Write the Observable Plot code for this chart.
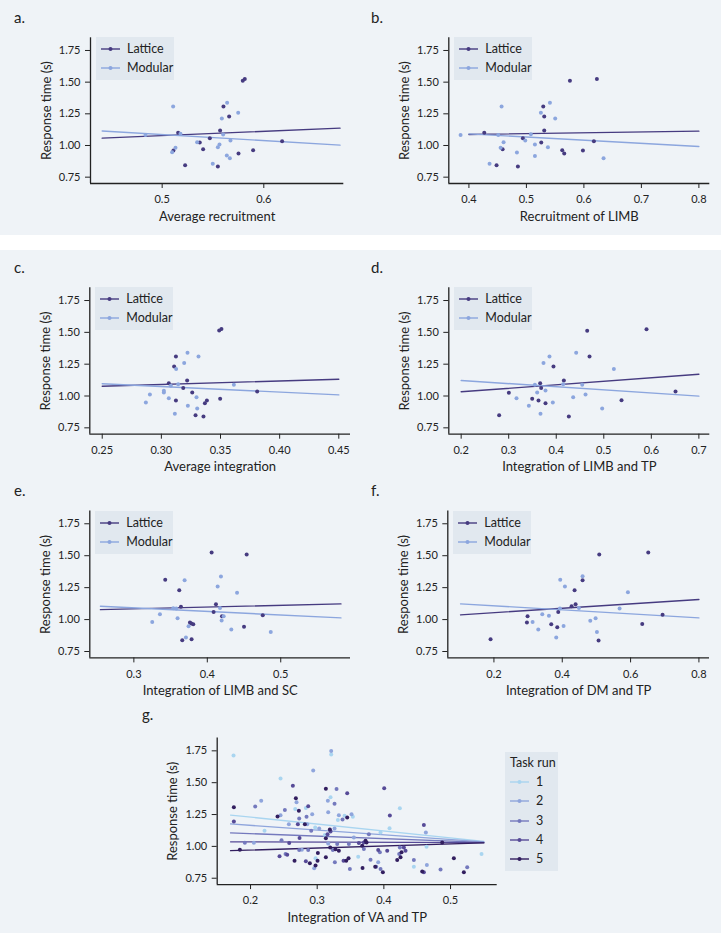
<!DOCTYPE html>
<html><head><meta charset="utf-8">
<script src="https://cdn.jsdelivr.net/npm/d3@7"></script>
<script src="https://cdn.jsdelivr.net/npm/@observablehq/plot@0.6"></script>
<style>
html,body{margin:0;padding:0;background:#eff3f7;}
#fig{position:relative;width:721px;height:933px;background:#eff3f7;font-family:Lato,sans-serif;color:#222;overflow:hidden}
.band{position:absolute;left:0;top:235px;width:721px;height:15px;background:#fff}
.wrap{position:absolute}
.wrap svg{overflow:visible}
.tag{position:absolute;font-size:15px;line-height:1;color:#222}
.legend{position:absolute;background:#e1e8ef;font-size:12.5px;color:#222}
.legend .row{position:absolute;left:0;height:14px;line-height:14px;white-space:nowrap}
.legend .row svg{position:absolute;left:5px;top:3px}
.legend .row span{position:absolute;left:31px;top:0}
.legend .title{position:absolute;left:5px;height:14px;line-height:14px;white-space:nowrap}
</style></head><body><div id="fig"><div class="band"></div></div>
<script>
// ---------- shared ----------
const groups = ["Lattice", "Modular"];
const groupColors = ["#463b80", "#8ca6de"];
const yDomain = [0.70, 1.85];
const yTicks = [0.75, 1.00, 1.25, 1.50, 1.75];
const yLabel = "Response time (s)";

// ---------- a. Average recruitment ----------
const aLattice = [[0.5813,1.524],[0.5793,1.511],[0.5603,1.308],[0.5659,1.229],[0.5570,1.118],[0.5157,1.100],[0.5469,1.058],[0.5370,1.024],[0.5403,0.971],[0.5895,0.963],[0.5111,0.961],[0.5751,0.937],[0.5226,0.845],[0.5548,0.834],[0.6180,1.034]];
const aModular = [[0.5108,1.308],[0.5639,1.337],[0.5748,1.258],[0.5587,1.213],[0.4836,1.082],[0.5180,1.092],[0.5600,1.087],[0.5672,1.039],[0.5344,1.026],[0.5564,1.008],[0.5131,0.982],[0.5548,0.987],[0.5098,0.947],[0.5636,0.921],[0.5666,0.900],[0.5498,0.855]];
const aLineLattice = [[0.441,1.058],[0.675,1.137]];
const aLineModular = [[0.441,1.114],[0.675,1.003]];

// ---------- b. Recruitment of LIMB ----------
const bLattice = [[0.6226,1.524],[0.5757,1.511],[0.5293,1.308],[0.5310,1.229],[0.5310,1.118],[0.4267,1.100],[0.4939,1.058],[0.5258,1.024],[0.4586,0.971],[0.5623,0.963],[0.5983,0.961],[0.5658,0.937],[0.4481,0.845],[0.4852,0.834],[0.6174,1.034]];
const bModular = [[0.4568,1.308],[0.5409,1.337],[0.5252,1.258],[0.5501,1.213],[0.3855,1.082],[0.4510,1.082],[0.5078,1.089],[0.4980,1.039],[0.4603,1.026],[0.5148,1.008],[0.4551,0.982],[0.5374,0.987],[0.4835,0.945],[0.5148,0.918],[0.6342,0.900],[0.4359,0.855]];
const bLineLattice = [[0.4,1.087],[0.8,1.113]];
const bLineModular = [[0.4,1.092],[0.8,0.992]];

// ---------- c. Average integration ----------
const cLattice = [[0.3508,1.527],[0.3489,1.514],[0.3123,1.310],[0.3108,1.232],[0.3218,1.122],[0.3063,1.101],[0.3185,1.062],[0.3261,1.027],[0.3385,0.965],[0.3368,0.944],[0.3123,0.965],[0.3497,0.978],[0.3289,0.849],[0.3356,0.839],[0.3810,1.035]];
const cModular = [[0.3221,1.339],[0.3314,1.310],[0.3193,1.260],[0.3125,1.213],[0.3613,1.088],[0.3080,1.080],[0.3142,1.093],[0.3021,1.041],[0.3021,1.027],[0.2903,1.012],[0.3063,0.983],[0.3297,0.991],[0.2869,0.949],[0.3224,0.923],[0.3303,0.902],[0.3114,0.860]];
const cLineLattice = [[0.25,1.077],[0.45,1.132]];
const cLineModular = [[0.25,1.096],[0.45,1.009]];

// ---------- d. Integration of LIMB and TP ----------
const dLattice = [[0.5899,1.524],[0.4651,1.512],[0.4700,1.310],[0.3942,1.232],[0.4160,1.122],[0.3662,1.101],[0.3683,1.062],[0.3003,1.025],[0.3494,0.978],[0.3627,0.965],[0.3774,0.944],[0.5373,0.967],[0.2799,0.849],[0.4265,0.839],[0.6509,1.035]];
const dModular = [[0.4419,1.339],[0.3858,1.310],[0.3732,1.260],[0.5212,1.213],[0.3550,1.088],[0.4146,1.093],[0.4546,1.088],[0.3774,1.043],[0.3599,1.027],[0.4616,1.012],[0.3164,0.983],[0.4356,0.991],[0.3928,0.949],[0.3424,0.923],[0.4966,0.902],[0.3669,0.860]];
const dLineLattice = [[0.2,1.033],[0.7,1.171]];
const dLineModular = [[0.2,1.122],[0.7,0.999]];

// ---------- e. Integration of LIMB and SC ----------
const eLattice = [[0.4059,1.525],[0.4536,1.509],[0.3427,1.311],[0.3618,1.230],[0.4118,1.120],[0.3641,1.101],[0.4086,1.060],[0.4200,1.026],[0.3764,0.977],[0.3782,0.969],[0.3809,0.963],[0.4500,0.943],[0.3786,0.846],[0.3659,0.838],[0.4755,1.034]];
const eModular = [[0.4186,1.337],[0.3691,1.308],[0.4141,1.258],[0.4405,1.211],[0.4173,1.091],[0.3536,1.089],[0.3577,1.086],[0.3355,1.042],[0.4223,1.026],[0.4195,0.992],[0.3595,1.010],[0.3250,0.982],[0.3745,0.948],[0.3709,0.859],[0.4327,0.922],[0.4864,0.903]];
const eLineLattice = [[0.2545,1.078],[0.582,1.123]];
const eLineModular = [[0.2545,1.104],[0.582,1.013]];

// ---------- f. Integration of DM and TP ----------
const fLattice = [[0.6517,1.525],[0.5083,1.509],[0.4595,1.308],[0.4361,1.230],[0.4390,1.120],[0.4273,1.104],[0.3883,1.060],[0.2985,1.026],[0.2966,0.977],[0.3678,0.963],[0.3854,0.940],[0.6341,0.966],[0.1902,0.846],[0.5063,0.836],[0.6937,1.037]];
const fModular = [[0.4595,1.339],[0.3941,1.311],[0.4078,1.258],[0.5922,1.214],[0.5678,1.086],[0.4488,1.091],[0.3932,1.086],[0.3415,1.042],[0.3610,1.029],[0.3132,0.982],[0.4820,0.990],[0.4976,1.010],[0.4039,0.950],[0.3298,0.922],[0.5015,0.903],[0.3824,0.859]];
const fLineLattice = [[0.1024,1.037],[0.8,1.157]];
const fLineModular = [[0.1024,1.123],[0.8,1.013]];

// ---------- g. Integration of VA and TP, by task run ----------
const runs = ["1", "2", "3", "4", "5"];
const runColors = ["#a9d5f0", "#8fa5dc", "#7479bd", "#564a97", "#321e5f"];
const gRun1 = [[0.1745,1.713],[0.245,1.532],[0.321,1.721],[0.320,1.385],[0.267,1.293],[0.283,1.302],[0.3535,1.233],[0.341,1.240],[0.424,1.299],[0.221,1.122],[0.297,1.148],[0.2975,0.906],[0.3115,1.089],[0.331,1.208],[0.3615,0.919],[0.395,1.109],[0.4085,1.143],[0.445,0.841],[0.464,0.997],[0.5465,0.940]];
const gRun2 = [[0.321,1.749],[0.294,1.595],[0.216,1.359],[0.269,1.346],[0.316,1.359],[0.3165,1.267],[0.205,1.029],[0.245,1.245],[0.2575,1.174],[0.277,0.974],[0.285,1.174],[0.2955,0.828],[0.3165,1.023],[0.326,1.141],[0.3325,1.245],[0.3515,1.253],[0.355,1.070],[0.3915,0.875],[0.463,1.109],[0.4645,0.854],[0.303,1.140],[0.2925,1.253]];
const gRun3 = [[0.207,1.314],[0.2515,1.286],[0.329,1.451],[0.326,1.335],[0.284,1.233],[0.273,1.218],[0.1915,1.029],[0.2465,1.049],[0.2525,0.940],[0.273,0.971],[0.2865,0.971],[0.291,1.122],[0.3235,0.971],[0.330,1.018],[0.3265,0.875],[0.338,1.211],[0.349,0.823],[0.3475,1.018],[0.380,0.896],[0.394,0.953],[0.370,0.979],[0.3775,1.096],[0.3885,0.841],[0.395,0.823],[0.424,0.992],[0.423,0.940],[0.445,0.893],[0.485,0.818],[0.525,0.836]];
const gRun4 = [[0.2635,1.475],[0.345,1.418],[0.4005,1.457],[0.409,1.243],[0.2865,1.316],[0.175,1.195],[0.2435,0.922],[0.255,0.935],[0.258,1.026],[0.271,1.174],[0.2735,1.065],[0.283,0.883],[0.3155,1.096],[0.320,1.117],[0.3395,0.888],[0.3625,1.026],[0.3915,0.971],[0.405,0.966],[0.430,0.992],[0.4325,0.966],[0.460,1.167],[0.460,0.797],[0.370,1.031]];
const gRun5 = [[0.175,1.307],[0.268,1.377],[0.2405,1.235],[0.2725,1.280],[0.313,1.453],[0.345,1.227],[0.184,0.974],[0.266,0.888],[0.2815,1.174],[0.289,0.867],[0.301,0.948],[0.2975,0.849],[0.3005,0.888],[0.313,1.063],[0.319,1.133],[0.313,0.914],[0.3195,0.992],[0.3275,0.977],[0.3325,0.966],[0.3435,0.888],[0.347,0.906],[0.3675,1.005],[0.3725,1.044],[0.368,0.831],[0.387,0.841],[0.374,1.031],[0.3985,0.797],[0.420,0.893],[0.425,0.914],[0.4265,0.953],[0.4575,0.802],[0.505,0.906],[0.520,0.797],[0.4875,1.031]];
const gLineX = [0.17, 0.55];
const gLineStartY = [1.246, 1.176, 1.106, 1.036, 0.966];
const gLineEndY = [1.040, 1.035, 1.032, 1.030, 1.027];

// ---------- layout (page pixels) ----------
const panels = [
  {tag:"a.", tagPos:[14,10], box:[0,0,360,235], frame:{l:90,r:343.3,t:37.3,b:183}, xDomain:[0.4295,0.6787], xTicks:[0.5,0.6], fmt:".1f", xLabel:"Average recruitment", lat:aLattice, mod:aModular, lLat:aLineLattice, lMod:aLineModular},
  {tag:"b.", tagPos:[371,10], box:[360,0,361,235], frame:{l:448.3,r:709.3,t:37.3,b:183}, xDomain:[0.365,0.819], xTicks:[0.4,0.5,0.6,0.7,0.8], fmt:".1f", xLabel:"Recruitment of LIMB", lat:bLattice, mod:bModular, lLat:bLineLattice, lMod:bLineModular},
  {tag:"c.", tagPos:[14,260], box:[0,250,360,225], frame:{l:89.3,r:350,t:287.3,b:433.7}, xDomain:[0.2395,0.4599], xTicks:[0.25,0.30,0.35,0.40,0.45], fmt:".2f", xLabel:"Average integration", lat:cLattice, mod:cModular, lLat:cLineLattice, lMod:cLineModular},
  {tag:"d.", tagPos:[371,260], box:[360,250,361,225], frame:{l:448.3,r:709.3,t:287.3,b:433.7}, xDomain:[0.174,0.723], xTicks:[0.2,0.3,0.4,0.5,0.6,0.7], fmt:".1f", xLabel:"Integration of LIMB and TP", lat:dLattice, mod:dModular, lLat:dLineLattice, lMod:dLineModular},
  {tag:"e.", tagPos:[14,483], box:[0,475,360,225], frame:{l:89.3,r:350,t:510.5,b:657.4}, xDomain:[0.24,0.595], xTicks:[0.3,0.4,0.5], fmt:".1f", xLabel:"Integration of LIMB and SC", lat:eLattice, mod:eModular, lLat:eLineLattice, lMod:eLineModular},
  {tag:"f.", tagPos:[371,483], box:[360,475,361,225], frame:{l:447.3,r:709,t:510.5,b:657.4}, xDomain:[0.065,0.831], xTicks:[0.2,0.4,0.6,0.8], fmt:".1f", xLabel:"Integration of DM and TP", lat:fLattice, mod:fModular, lLat:fLineLattice, lMod:fLineModular}
];

const fig = document.getElementById("fig");

function axes(xDomain, xTicks, fmt, xLabel) {
  return [
    Plot.axisY({ticks: yTicks, tickFormat: d3.format(".2f"), tickSize: 5, tickPadding: 5, fontSize: 11, label: null}),
    Plot.axisY({ticks: [], label: yLabel, labelArrow: "none", labelAnchor: "center", labelOffset: 49, fontSize: 13}),
    Plot.axisX({ticks: xTicks, tickFormat: d3.format(fmt), tickSize: 5, tickPadding: 7, fontSize: 11, label: null}),
    Plot.axisX({ticks: [], label: xLabel, labelArrow: "none", labelAnchor: "center", labelOffset: 37, fontSize: 13}),
    Plot.ruleX([xDomain[0]], {stroke: "#222", strokeWidth: 1.3}),
    Plot.ruleY([yDomain[0]], {stroke: "#222", strokeWidth: 1.3})
  ];
}

function place(el, box) {
  const w = document.createElement("div");
  w.className = "wrap";
  w.style.left = box[0] + "px"; w.style.top = box[1] + "px";
  w.appendChild(el);
  fig.appendChild(w);
}

function tag(text, pos) {
  const t = document.createElement("div");
  t.className = "tag"; t.textContent = text;
  t.style.left = pos[0] + "px"; t.style.top = pos[1] + "px";
  fig.appendChild(t);
}

function swatch(color) {
  return `<svg width="20" height="8"><line x1="0" y1="4" x2="19" y2="4" stroke="${color}" stroke-width="1.4"/><circle cx="9.5" cy="4" r="2" fill="${color}"/></svg>`;
}

function legend(left, top, w, h, title, names, colors, firstY, step) {
  const L = document.createElement("div");
  L.className = "legend";
  L.style.left = left + "px"; L.style.top = top + "px";
  L.style.width = w + "px"; L.style.height = h + "px";
  let html = "";
  if (title) html += `<div class="title" style="top:${11 - 7}px">${title}</div>`;
  names.forEach((n, i) => {
    html += `<div class="row" style="top:${firstY + i * step - 7}px">${swatch(colors[i])}<span>${n}</span></div>`;
  });
  L.innerHTML = html;
  fig.appendChild(L);
}

for (const p of panels) {
  const [bx, by, bw, bh] = p.box;
  const pts = [
    ...p.lat.map(([x, y]) => ({x, y, g: "Lattice"})),
    ...p.mod.map(([x, y]) => ({x, y, g: "Modular"}))
  ];
  const lns = [
    ...p.lLat.map(([x, y]) => ({x, y, g: "Lattice"})),
    ...p.lMod.map(([x, y]) => ({x, y, g: "Modular"}))
  ];
  const chart = Plot.plot({
    width: bw, height: bh,
    marginLeft: p.frame.l - bx, marginRight: bx + bw - p.frame.r,
    marginTop: p.frame.t - by, marginBottom: by + bh - p.frame.b,
    style: {background: "transparent", fontFamily: "Lato, sans-serif", color: "#222"},
    x: {domain: p.xDomain},
    y: {domain: yDomain},
    color: {domain: groups, range: groupColors},
    marks: [
      ...axes(p.xDomain, p.xTicks, p.fmt, p.xLabel),
      Plot.line(lns, {x: "x", y: "y", z: "g", stroke: "g", strokeWidth: 1.4}),
      Plot.dot(pts, {x: "x", y: "y", fill: "g", r: 2})
    ]
  });
  place(chart, p.box);
  tag(p.tag, p.tagPos);
  legend(p.frame.l + 6, p.frame.t, 78, 43, null, groups, groupColors, 12, 19);
}

// ---------- panel g ----------
{
  const box = [0, 700, 721, 233];
  const frame = {l: 216.7, r: 496.7, t: 737.6, b: 884.1};
  const xDomain = [0.15, 0.57];
  const runData = [gRun1, gRun2, gRun3, gRun4, gRun5];
  const pts = runData.flatMap((arr, i) => arr.map(([x, y]) => ({x, y, run: runs[i]})));
  const lns = runs.flatMap((r, i) => [
    {x: gLineX[0], y: gLineStartY[i], run: r},
    {x: gLineX[1], y: gLineEndY[i], run: r}
  ]);
  const chart = Plot.plot({
    width: box[2], height: box[3],
    marginLeft: frame.l - box[0], marginRight: box[0] + box[2] - frame.r,
    marginTop: frame.t - box[1], marginBottom: box[1] + box[3] - frame.b,
    style: {background: "transparent", fontFamily: "Lato, sans-serif", color: "#222"},
    x: {domain: xDomain},
    y: {domain: yDomain},
    color: {domain: runs, range: runColors},
    marks: [
      ...axes(xDomain, [0.2, 0.3, 0.4, 0.5], ".1f", "Integration of VA and TP"),
      Plot.line(lns, {x: "x", y: "y", z: "run", stroke: "run", strokeWidth: 1.3}),
      Plot.dot(pts, {x: "x", y: "y", fill: "run", r: 2})
    ]
  });
  place(chart, box);
  tag("g.", [142, 707]);
  legend(505, 751.7, 53, 119, "Task run", runs, runColors, 30.6, 19.2);
}
</script></body></html>
